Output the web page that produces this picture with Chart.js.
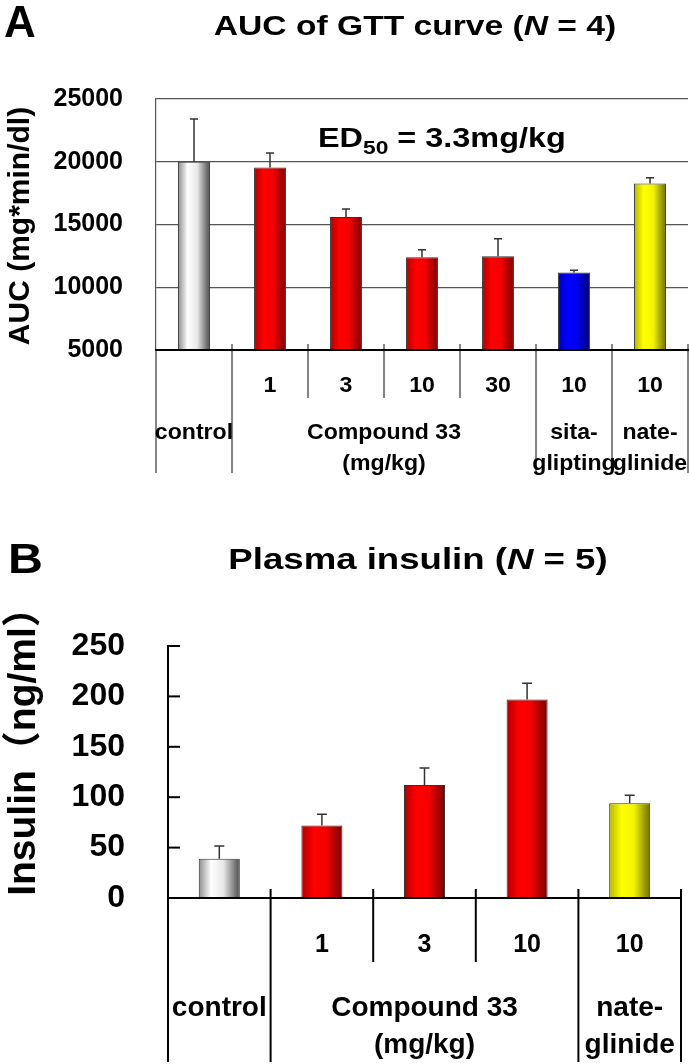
<!DOCTYPE html>
<html>
<head>
<meta charset="utf-8">
<script src="https://cdn.jsdelivr.net/npm/chart.js@4.4.1/dist/chart.umd.min.js"></script>
<style>
  html, body { margin: 0; padding: 0; background: #fff; }
  #wrap { position: relative; width: 689px; height: 1064px; overflow: hidden; }
  .panel { position: absolute; left: 0; }
  #panelA { top: 0; }
  #panelB { top: 480px; }
</style>
</head>
<body>
<div id="wrap">
  <div class="panel" id="panelA"><canvas id="chartA" width="689" height="480"></canvas></div>
  <div class="panel" id="panelB"><canvas id="chartB" width="689" height="584"></canvas></div>
</div>
<script>
// panel A: AUC of GTT curve
const aucDoses = ['', '1', '3', '10', '30', '10', '10'];
const aucMean = [20000, 19550, 15600, 12400, 12480, 11170, 18270];
const aucSem = [3400, 1140, 640, 590, 1380, 180, 460];
const aucGroups = [['control'], ['Compound 33', '(mg/kg)'], ['sita-', 'glipting'], ['nate-', 'glinide']];
const aucGroupSize = [1, 4, 1, 1];
const aucTicks = [5000, 10000, 15000, 20000, 25000];

// panel B: plasma insulin
const insDoses = ['', '1', '3', '10', '10'];
const insMean = [39, 72, 112, 197, 94];
const insSem = [12.5, 11, 17, 16, 8];
const insGroups = [['control'], ['Compound 33', '(mg/kg)'], ['nate-', 'glinide']];
const insGroupSize = [1, 3, 1];
const insTicks = [0, 50, 100, 150, 200, 250];

const aucPalette = ['gray', 'red', 'red', 'red', 'red', 'blue', 'yellow'];
const insPalette = ['gray', 'red', 'red', 'red', 'yellow'];

const shades = {
  gray: ['#8a8a8a', '#ffffff', '#e8e8e8', '#4a4a4a'],
  red: ['#b00000', '#ff0000', '#f40000', '#7a0000'],
  blue: ['#0000b0', '#0000ff', '#0000f0', '#00006a'],
  yellow: ['#b4b400', '#ffff00', '#f4f400', '#6e6e00'],
};

const FONT = '"Liberation Sans", Arial, Helvetica, "Noto Sans CJK SC", sans-serif';
const font = (size, italic) => `${italic ? 'italic ' : ''}bold ${size}px ${FONT}`;

function drawText(ctx, parts, x, y, align, sx = 1, baseline = 'alphabetic') {
  ctx.save();
  let total = 0;
  const widths = parts.map((p) => {
    ctx.font = font(p.size, p.italic);
    const w = ctx.measureText(p.text).width;
    total += w;
    return w;
  });
  ctx.translate(x, y);
  ctx.scale(sx, 1);
  ctx.fillStyle = '#000';
  ctx.textAlign = 'left';
  ctx.textBaseline = baseline;
  let cx = align === 'center' ? -total / 2 : align === 'right' ? -total : 0;
  parts.forEach((p, i) => {
    ctx.font = font(p.size, p.italic);
    ctx.fillText(p.text, cx, p.dy || 0);
    cx += widths[i];
  });
  ctx.restore();
}

function drawVertical(ctx, text, x, y, size) {
  ctx.save();
  ctx.translate(x, y);
  ctx.rotate(-Math.PI / 2);
  ctx.font = font(size);
  ctx.fillStyle = '#000';
  ctx.textAlign = 'center';
  ctx.textBaseline = 'middle';
  ctx.fillText(text, 0, 0);
  ctx.restore();
}

function barFill(palette, barPct) {
  return (context) => {
    const chart = context.chart;
    const s = shades[palette[context.dataIndex]];
    const x = chart.scales.x;
    if (!chart.chartArea || !x) return s[1];
    const w = x.width / chart.data.labels.length * barPct;
    const c = x.getPixelForValue(context.dataIndex);
    const g = chart.ctx.createLinearGradient(c - w / 2, 0, c + w / 2, 0);
    g.addColorStop(0, s[0]);
    g.addColorStop(0.3, s[1]);
    g.addColorStop(0.6, s[2]);
    g.addColorStop(1, s[3]);
    return g;
  };
}

const errorBars = {
  id: 'errorBars',
  afterDatasetsDraw(chart) {
    const { ctx } = chart;
    const ds = chart.data.datasets[0];
    const meta = chart.getDatasetMeta(0);
    const y = chart.scales.y;
    ctx.save();
    ctx.strokeStyle = '#333';
    ctx.lineWidth = 1.5;
    meta.data.forEach((bar, i) => {
      const top = y.getPixelForValue(ds.data[i] + ds.sem[i]);
      ctx.beginPath();
      ctx.moveTo(bar.x, bar.y);
      ctx.lineTo(bar.x, top);
      ctx.moveTo(bar.x - ds.cap, top);
      ctx.lineTo(bar.x + ds.cap, top);
      ctx.stroke();
    });
    ctx.restore();
  },
};

// category table under the x axis
function categoryTable(doses, groups, groupSize, st) {
  return {
    id: 'categoryTable',
    afterDraw(chart) {
      const { ctx, chartArea: area } = chart;
      const x = chart.scales.x;
      const n = doses.length;
      const edge = (i) => (i === 0 ? area.left : i === n ? area.right
        : (x.getPixelForValue(i - 1) + x.getPixelForValue(i)) / 2);
      const groupEdges = new Set([0]);
      let acc = 0;
      groupSize.forEach((g) => { acc += g; groupEdges.add(acc); });

      ctx.save();
      ctx.lineCap = 'butt';
      ctx.strokeStyle = st.color;
      ctx.lineWidth = st.width;
      for (let i = 0; i <= n; i++) {
        const full = groupEdges.has(i);
        const y0 = i === 0 ? area.bottom : area.bottom - st.tickUp;
        const y1 = area.bottom + (full ? st.fullDrop : st.shortDrop);
        ctx.beginPath();
        ctx.moveTo(edge(i), y0);
        ctx.lineTo(edge(i), y1);
        ctx.stroke();
      }
      if (st.innerTick) {
        ctx.lineWidth = 2;
        ctx.strokeStyle = '#000';
        chart.scales.y.ticks.forEach((t) => {
          const py = chart.scales.y.getPixelForValue(t.value);
          ctx.beginPath();
          ctx.moveTo(area.left, py);
          ctx.lineTo(area.left + st.innerTick, py);
          ctx.stroke();
        });
      }
      ctx.strokeStyle = '#000';
      ctx.lineWidth = st.axisWidth;
      ctx.beginPath();
      ctx.moveTo(area.left - 1, area.bottom);
      ctx.lineTo(area.right + 1, area.bottom);
      ctx.stroke();
      ctx.restore();

      doses.forEach((d, i) => {
        if (d) drawText(ctx, [{ text: d, size: st.doseSize }], x.getPixelForValue(i), area.bottom + st.doseY, 'center', st.sx, 'middle');
      });
      let start = 0;
      groups.forEach((lines, gi) => {
        const cx = (edge(start) + edge(start + groupSize[gi])) / 2;
        lines.forEach((t, li) => {
          drawText(ctx, [{ text: t, size: st.groupSize }], cx, area.bottom + (li === 0 ? st.line1Y : st.line2Y), 'center', st.sx, 'middle');
        });
        start += groupSize[gi];
      });
    },
  };
}

const panelA = {
  id: 'panelA',
  afterDraw(chart) {
    const ctx = chart.ctx;
    drawText(ctx, [{ text: 'A', size: 44 }], 4, 37, 'left');
    drawText(ctx, [
      { text: 'AUC of GTT curve (', size: 28 },
      { text: 'N', size: 28, italic: true },
      { text: ' = 4)', size: 28 },
    ], 415, 35, 'center', 1.2);
    drawText(ctx, [
      { text: 'ED', size: 27 },
      { text: '50', size: 19, dy: 7 },
      { text: ' = 3.3mg/kg', size: 27 },
    ], 318, 147, 'left', 1.2);
    drawVertical(ctx, 'AUC (mg*min/dl)', 21, 226, 30);
  },
};

const panelB = {
  id: 'panelB',
  afterDraw(chart) {
    const ctx = chart.ctx;
    drawText(ctx, [{ text: 'B', size: 42 }], 8, 93, 'left', 1.15);
    drawText(ctx, [
      { text: 'Plasma insulin (', size: 30 },
      { text: 'N', size: 30, italic: true },
      { text: ' = 5)', size: 30 },
    ], 418, 89, 'center', 1.22);
    drawVertical(ctx, 'Insulin（ng/ml）', 24, 262, 39);
  },
};

new Chart(document.getElementById('chartA'), {
  type: 'bar',
  data: {
    labels: aucDoses,
    datasets: [{
      data: aucMean,
      sem: aucSem,
      cap: 4,
      backgroundColor: barFill(aucPalette, 0.42),
      borderColor: '#333',
      borderWidth: 1,
      categoryPercentage: 1,
      barPercentage: 0.42,
    }],
  },
  options: {
    responsive: false,
    animation: false,
    layout: { padding: { top: 99, bottom: 130, right: 1, left: 0 } },
    plugins: { legend: { display: false }, tooltip: { enabled: false } },
    scales: {
      x: { display: false },
      y: {
        min: 5000,
        max: 25000,
        afterFit: (scale) => { scale.width = 156; },
        afterBuildTicks: (scale) => { scale.ticks = aucTicks.map((v) => ({ value: v })); },
        grid: { color: '#555', lineWidth: 1.2, drawTicks: false },
        border: { display: true, color: '#555', width: 1.2 },
        ticks: {
          color: '#000',
          padding: 33,
          font: { family: FONT, size: 25, weight: 'bold' },
          callback: (v) => String(v),
        },
      },
    },
  },
  plugins: [errorBars, categoryTable(aucDoses, aucGroups, aucGroupSize, {
    color: '#333', width: 1.2, tickUp: 6, shortDrop: 48, fullDrop: 123,
    doseY: 36, line1Y: 83, line2Y: 114, doseSize: 22, groupSize: 22, sx: 1.05, axisWidth: 1.8,
  }), panelA],
});

new Chart(document.getElementById('chartB'), {
  type: 'bar',
  data: {
    labels: insDoses,
    datasets: [{
      data: insMean,
      sem: insSem,
      cap: 5,
      backgroundColor: barFill(insPalette, 0.4),
      borderColor: '#333',
      borderWidth: 1,
      categoryPercentage: 1,
      barPercentage: 0.4,
    }],
  },
  options: {
    responsive: false,
    animation: false,
    layout: { padding: { top: 166, bottom: 166, right: 8, left: 0 } },
    plugins: { legend: { display: false }, tooltip: { enabled: false } },
    scales: {
      x: { display: false },
      y: {
        min: 0,
        max: 250,
        afterFit: (scale) => { scale.width = 168; },
        afterBuildTicks: (scale) => { scale.ticks = insTicks.map((v) => ({ value: v })); },
        grid: { display: false, drawTicks: false },
        border: { display: true, color: '#000', width: 2 },
        ticks: {
          color: '#000',
          padding: 43,
          font: { family: FONT, size: 32, weight: 'bold' },
          callback: (v) => String(v),
        },
      },
    },
  },
  plugins: [errorBars, categoryTable(insDoses, insGroups, insGroupSize, {
    color: '#000', width: 2, tickUp: 9, shortDrop: 64, fullDrop: 164, innerTick: 12,
    doseY: 47, line1Y: 110, line2Y: 147, doseSize: 25, groupSize: 28, sx: 1, axisWidth: 2,
  }), panelB],
});
</script>
</body>
</html>
